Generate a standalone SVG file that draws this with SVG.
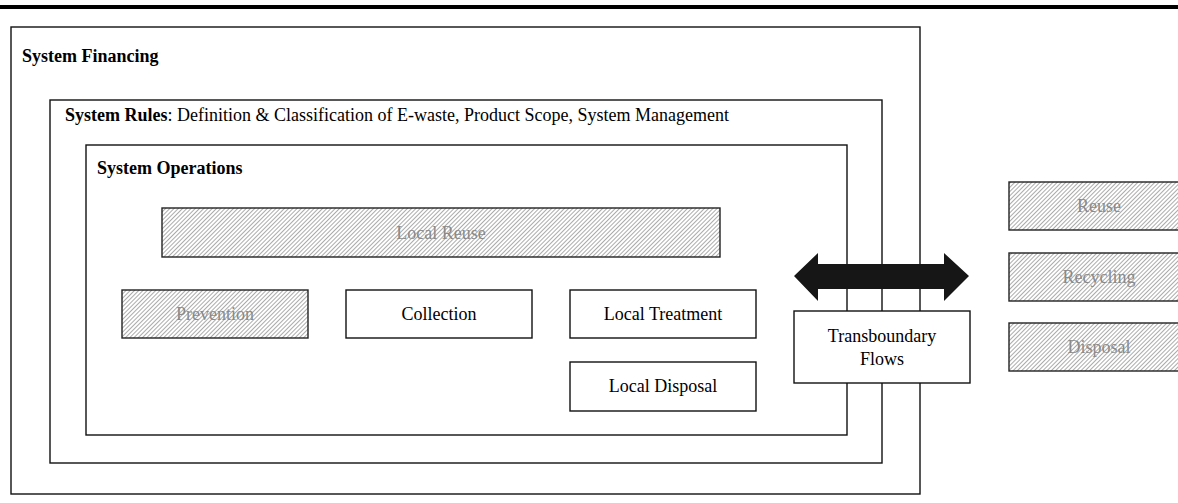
<svg xmlns="http://www.w3.org/2000/svg" width="1178" height="503" viewBox="0 0 1178 503">
  <defs>
    <pattern id="hatch" width="3" height="3" patternUnits="userSpaceOnUse" patternTransform="rotate(45)">
      <rect width="3" height="3" fill="#ffffff"/>
      <line x1="0" y1="0" x2="0" y2="3" stroke="#8f8f8f" stroke-width="1.5"/>
    </pattern>
    <style>
      .frame { fill: none; stroke: #111; stroke-width: 1.4; }
      .box { fill: #ffffff; stroke: #111; stroke-width: 1.4; }
      .hbox { fill: url(#hatch); stroke: #222; stroke-width: 1.4; }
      .title { font-family: "Liberation Serif", "Times New Roman", serif; font-size: 18px; font-weight: bold; fill: #000; }
      .lbl { font-family: "Liberation Serif", "Times New Roman", serif; font-size: 18px; fill: #000; text-anchor: middle; }
      .glbl { font-family: "Liberation Serif", "Times New Roman", serif; font-size: 18px; fill: #8a8a8a; text-anchor: middle; }
    </style>
  </defs>

  <rect width="1178" height="503" fill="#ffffff"/>
  <!-- rule across the top -->
  <rect x="0" y="5" width="1178" height="4" fill="#000"/>

  <!-- nested system frames -->
  <g id="system-financing">
    <rect class="frame" x="11" y="27" width="909" height="467"/>
    <text class="title" x="22" y="62">System Financing</text>
  </g>
  <g id="system-rules">
    <rect class="frame" x="50" y="100" width="832" height="363"/>
    <text class="title" x="65" y="121">System Rules<tspan font-weight="normal">: Definition &amp; Classification of E-waste, Product Scope, System Management</tspan></text>
  </g>
  <g id="system-operations">
    <rect class="frame" x="86" y="145" width="761" height="290"/>
    <text class="title" x="97" y="174">System Operations</text>
  </g>

  <!-- operations -->
  <g id="local-reuse">
    <rect class="hbox" x="162" y="208" width="558" height="49"/>
    <text class="glbl" x="441" y="239">Local Reuse</text>
  </g>
  <g id="prevention">
    <rect class="hbox" x="122" y="290" width="186" height="48"/>
    <text class="glbl" x="215" y="320">Prevention</text>
  </g>
  <g id="collection">
    <rect class="box" x="346" y="290" width="186" height="48"/>
    <text class="lbl" x="439" y="320">Collection</text>
  </g>
  <g id="local-treatment">
    <rect class="box" x="570" y="290" width="186" height="48"/>
    <text class="lbl" x="663" y="320">Local Treatment</text>
  </g>
  <g id="local-disposal">
    <rect class="box" x="570" y="362" width="186" height="49"/>
    <text class="lbl" x="663" y="392">Local Disposal</text>
  </g>

  <!-- transboundary flows -->
  <g id="transboundary-flows">
    <rect class="box" x="794" y="311" width="176" height="72"/>
    <text class="lbl" x="882" y="342">Transboundary</text>
    <text class="lbl" x="882" y="365">Flows</text>
  </g>

  <g id="connectors">
    <polygon fill="#161616" points="794,276 818,253 818,264 944,264 944,253 969,276 944,301 944,289 818,289 818,301"/>
  </g>

  <!-- destinations abroad -->
  <g id="reuse">
    <rect class="hbox" x="1009" y="182" width="180" height="48"/>
    <text class="glbl" x="1099" y="212">Reuse</text>
  </g>
  <g id="recycling">
    <rect class="hbox" x="1009" y="253" width="180" height="48"/>
    <text class="glbl" x="1099" y="283">Recycling</text>
  </g>
  <g id="disposal">
    <rect class="hbox" x="1009" y="323" width="180" height="48"/>
    <text class="glbl" x="1099" y="353">Disposal</text>
  </g>
</svg>
